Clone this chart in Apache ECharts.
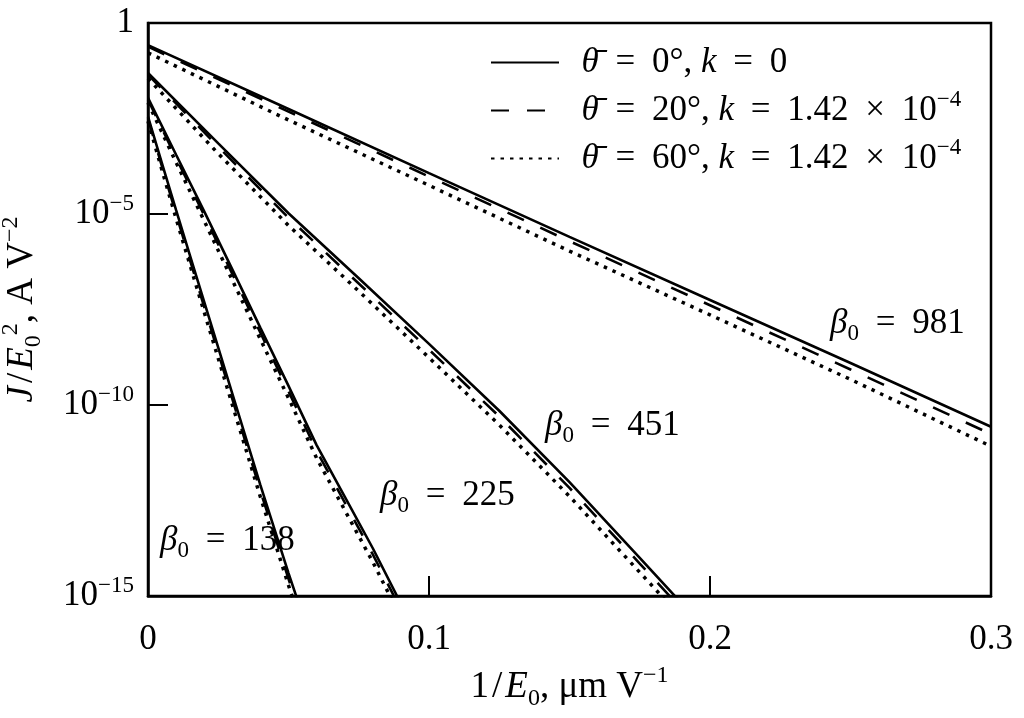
<!DOCTYPE html>
<html>
<head>
<meta charset="utf-8">
<script src="https://cdn.jsdelivr.net/npm/echarts@6/dist/echarts.min.js"></script>
<style>
  html, body { margin: 0; padding: 0; background: #fff; }
  #chart { width: 1024px; height: 718px; }
</style>
</head>
<body>
<div id="chart"></div>
<script>
// x = 1/E0 (um/V), y values given as log10(J/E0^2)
const x981 = [0, 0.05, 0.1, 0.15, 0.2, 0.25, 0.3];
const b981Solid = [-0.58, -2.25, -3.93, -5.6, -7.25, -8.9, -10.57];
const b981Dashed = [-0.62, -2.32, -4.02, -5.71, -7.39, -9.07, -10.76];
const b981Dotted = [-0.78, -2.54, -4.25, -5.97, -7.64, -9.33, -11.08];

const x451 = [0, 0.025, 0.05, 0.075, 0.1, 0.125, 0.15, 0.175, 0.19];
const b451Solid = [-1.31, -3.15, -4.98, -6.68, -8.4, -10.15, -12.02, -14.0, -15.2];
const b451Dashed = [-1.35, -3.24, -5.1, -6.82, -8.55, -10.3, -12.17, -14.15, -15.35];
const b451Dotted = [-1.45, -3.42, -5.3, -7.02, -8.76, -10.52, -12.39, -14.38, -15.58];

const x225 = [0, 0.01, 0.02, 0.03, 0.04, 0.05, 0.06, 0.07, 0.08, 0.09, 0.095];
const b225Solid = [-1.96, -3.45, -4.93, -6.45, -7.98, -9.5, -11.05, -12.4, -13.75, -15.2, -15.9];
const b225Dashed = [-2.01, -3.53, -5.03, -6.57, -8.11, -9.64, -11.2, -12.55, -13.91, -15.36, -16.06];
const b225Dotted = [-2.09, -3.65, -5.18, -6.73, -8.28, -9.82, -11.39, -12.75, -14.11, -15.57, -16.27];

const x138 = [0, 0.005, 0.01, 0.015, 0.02, 0.025, 0.03, 0.035, 0.04, 0.045, 0.05, 0.055];
const b138Solid = [-2.45, -3.68, -4.9, -6.1, -7.3, -8.5, -9.7, -10.9, -12.1, -13.25, -14.4, -15.5];
const b138Dashed = [-2.5, -3.76, -5.0, -6.22, -7.43, -8.63, -9.84, -11.04, -12.25, -13.4, -14.55, -15.65];
const b138Dotted = [-2.57, -3.86, -5.12, -6.35, -7.57, -8.78, -9.99, -11.2, -12.41, -13.56, -14.72, -15.82];

const betaLabels = ['981', '451', '225', '138'];
const xTicks = [0, 0.1, 0.2, 0.3];

const font = "'Liberation Serif', 'DejaVu Serif', serif";
function makeRich(size) {
  const s = Math.round(size * 0.66);
  const base = { fontFamily: font, fontSize: size, lineHeight: Math.round(size * 1.26), color: '#000' };
  return {
    n: base,
    i: Object.assign({}, base, { fontStyle: 'italic' }),
    eq: Object.assign({}, base, { padding: [0, 8, 0, 8] }),
    sl: Object.assign({}, base, { padding: [0, 3, 0, 3] }),
    sup: { fontFamily: font, fontSize: s, lineHeight: s + 1, verticalAlign: 'top', color: '#000' },
    sub: { fontFamily: font, fontSize: s, lineHeight: s + 1, verticalAlign: 'bottom', color: '#000' },
  };
}
const rich = makeRich(35);
const richName = makeRich(37);

const styles = {
  solid: { type: 'solid', width: 2.6 },
  dashed: { type: [18, 18], width: 2.6 },
  dotted: { type: [3.5, 6], width: 3.5 },
};

const legendText = {
  solid: '{i|θ̄}{eq| = }{n|0°, }{i|k}{eq| = }{n|0}',
  dashed: '{i|θ̄}{eq| = }{n|20°, }{i|k}{eq| = }{n|1.42}{eq| × }{n|10}{sup|−4}',
  dotted: '{i|θ̄}{eq| = }{n|60°, }{i|k}{eq| = }{n|1.42}{eq| × }{n|10}{sup|−4}',
};

function makeSeries(name, xs, exps) {
  return {
    name: name,
    type: 'line',
    symbol: 'none',
    color: '#000',
    lineStyle: Object.assign({ color: '#000' }, styles[name]),
    data: xs.map((x, i) => [x, Math.pow(10, exps[i])]),
  };
}

const series = [
  makeSeries('solid', x981, b981Solid),
  makeSeries('dashed', x981, b981Dashed),
  makeSeries('dotted', x981, b981Dotted),
  makeSeries('solid', x451, b451Solid),
  makeSeries('dashed', x451, b451Dashed),
  makeSeries('dotted', x451, b451Dotted),
  makeSeries('solid', x225, b225Solid),
  makeSeries('dashed', x225, b225Dashed),
  makeSeries('dotted', x225, b225Dotted),
  makeSeries('solid', x138, b138Solid),
  makeSeries('dashed', x138, b138Dashed),
  makeSeries('dotted', x138, b138Dotted),
];

const labelPos = [[830, 328], [545, 430], [380, 500], [160, 545]];
const graphic = betaLabels.map((b, i) => ({
  type: 'text',
  left: labelPos[i][0],
  top: labelPos[i][1] - 22,
  style: {
    text: '{i|β}{sub|0}{eq| = }{n|' + b + '}',
    rich: rich,
  },
}));

const chart = echarts.init(document.getElementById('chart'));
chart.setOption({
  animation: false,
  backgroundColor: '#fff',
  grid: {
    left: 148, right: 33, top: 23, bottom: 122,
    outerBoundsMode: 'none',
    show: true, borderColor: '#000', borderWidth: 2.5,
  },
  legend: {
    data: ['solid', 'dashed', 'dotted'],
    orient: 'vertical',
    left: 485,
    top: 40,
    itemWidth: 68,
    itemHeight: 14,
    itemGap: 8.5,
    selectedMode: false,
    itemStyle: { color: 'transparent', borderWidth: 0, opacity: 0 },
    formatter: name => '{n|\u2002}' + legendText[name],
    textStyle: { rich: rich },
  },
  xAxis: {
    type: 'value',
    min: 0, max: 0.3, interval: 0.1,
    name: '{n|1}{sl|/}{i|E}{sub|0}{n|, μm V}{sup|−1}',
    nameLocation: 'middle',
    nameGap: 68,
    nameTextStyle: { rich: richName },
    axisLine: { lineStyle: { color: '#000', width: 2.5 } },
    axisTick: { inside: true, length: 20, lineStyle: { color: '#000', width: 2 } },
    axisLabel: {
      margin: 22,
      formatter: v => '{n|' + (v === 0 ? '0' : xTicks[Math.round(v * 10)].toFixed(1)) + '}',
      rich: rich,
    },
    splitLine: { show: false },
  },
  yAxis: {
    type: 'log',
    logBase: 10,
    min: 1e-15, max: 1, interval: 5,
    name: '{i|J}{sl|/}{i|E}{sub|0}{sup|2}{n|, A V}{sup|−2}',
    nameLocation: 'middle',
    nameRotate: 90,
    nameGap: 102,
    nameTextStyle: { rich: richName },
    axisLine: { lineStyle: { color: '#000', width: 2.5 } },
    axisTick: { inside: true, length: 20, lineStyle: { color: '#000', width: 2 } },
    axisLabel: {
      margin: 14,
      formatter: v => {
        const e = Math.round(Math.log10(v));
        return e === 0 ? '{n|1}' : '{n|10}{sup|−' + (-e) + '}';
      },
      rich: rich,
    },
    splitLine: { show: false },
  },
  graphic: graphic,
  series: series,
});
</script>
</body>
</html>
